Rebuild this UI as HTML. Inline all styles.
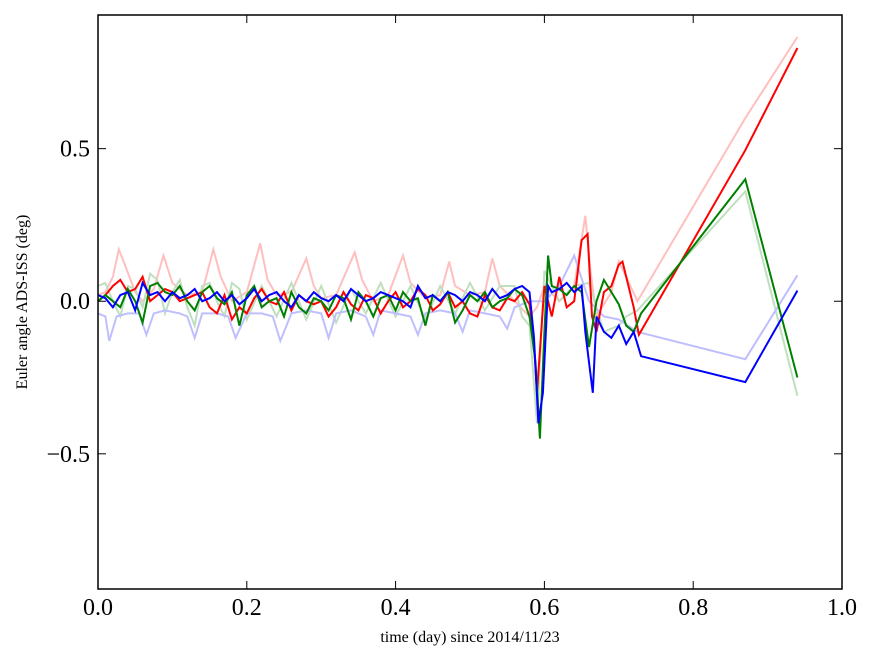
<!DOCTYPE html>
<html><head><meta charset="utf-8"><style>
body{margin:0;background:#fff;}
svg text{font-family:"Liberation Serif",serif;}
</style></head><body>
<svg id="chart" width="875" height="662"></svg>
<script>
const xTicks=[0.0,0.2,0.4,0.6,0.8,1.0];
const xTickLabels=["0.0","0.2","0.4","0.6","0.8","1.0"];
const yTicks=[0.5,0.0,-0.5];
const yTickLabels=["0.5","0.0","\u22120.5"];
const pinkX=[0,0.01,0.02,0.028,0.036,0.05,0.06,0.075,0.088,0.1,0.12,0.14,0.155,0.165,0.18,0.2,0.218,0.228,0.24,0.26,0.28,0.29,0.3,0.32,0.345,0.355,0.37,0.39,0.41,0.42,0.44,0.46,0.472,0.48,0.5,0.52,0.53,0.54,0.56,0.58,0.59,0.6,0.62,0.64,0.655,0.662,0.67,0.69,0.7,0.71,0.725,0.87,0.94];
const pinkY=[0.02,0.03,0.08,0.17,0.12,0.03,0.0,0.04,0.15,0.06,0.02,0.03,0.17,0.08,0.0,0.03,0.19,0.07,0.02,0.03,0.14,0.05,0.01,0.02,0.16,0.07,0.0,0.02,0.15,0.06,0.01,0.02,0.13,0.05,0.02,0.03,0.14,0.05,0.0,-0.05,-0.02,0.05,0.0,0.05,0.28,0.1,-0.05,0.03,0.13,0.08,0.0,0.6,0.866];
const redX=[0,0.01,0.02,0.03,0.04,0.05,0.06,0.07,0.08,0.09,0.1,0.11,0.12,0.13,0.14,0.15,0.16,0.17,0.18,0.19,0.2,0.21,0.22,0.23,0.24,0.25,0.26,0.27,0.28,0.29,0.3,0.31,0.32,0.33,0.34,0.35,0.36,0.37,0.38,0.39,0.4,0.41,0.42,0.43,0.44,0.45,0.46,0.47,0.48,0.49,0.5,0.51,0.52,0.53,0.54,0.55,0.56,0.57,0.58,0.585,0.59,0.6,0.61,0.62,0.63,0.64,0.65,0.658,0.664,0.67,0.68,0.69,0.7,0.705,0.71,0.72,0.727,0.87,0.94];
const redY=[0.0,0.02,0.05,0.07,0.03,0.04,0.08,0.0,0.02,0.04,0.03,0.0,0.01,0.02,0.03,-0.02,-0.04,0.02,-0.06,-0.02,-0.04,0.01,0.04,0.0,-0.01,0.03,-0.03,0.02,0.0,-0.01,0.0,-0.05,-0.02,0.03,-0.01,-0.03,0.02,0.01,-0.04,0.0,0.03,-0.02,0.0,0.04,0.02,-0.03,-0.01,0.03,-0.02,0.0,-0.04,-0.05,0.02,-0.02,-0.03,0.01,0.0,0.03,-0.01,-0.1,-0.3,0.05,-0.05,0.08,-0.02,0.0,0.2,0.22,-0.05,-0.1,0.03,0.05,0.12,0.13,0.08,-0.02,-0.11,0.495,0.83];
const gfX=[0,0.01,0.02,0.03,0.04,0.05,0.06,0.07,0.08,0.09,0.1,0.11,0.12,0.13,0.14,0.15,0.16,0.17,0.18,0.19,0.2,0.22,0.24,0.26,0.28,0.3,0.32,0.34,0.36,0.38,0.4,0.42,0.44,0.46,0.48,0.5,0.52,0.54,0.56,0.57,0.58,0.59,0.6,0.61,0.62,0.64,0.66,0.68,0.7,0.71,0.725,0.87,0.94];
const gfY=[0.05,0.06,0.0,-0.05,0.05,0.04,-0.02,0.09,0.07,-0.04,0.03,0.07,-0.02,-0.08,0.05,0.06,0.0,-0.05,0.06,0.04,-0.06,0.05,-0.05,0.06,-0.06,0.05,-0.07,0.04,-0.04,0.06,-0.05,0.05,-0.06,0.05,-0.04,0.06,-0.03,0.05,0.05,-0.05,-0.08,-0.4,0.1,0.05,0.0,0.05,0.06,-0.1,-0.08,-0.05,-0.03,0.36,-0.31];
const greenX=[0,0.01,0.02,0.03,0.04,0.05,0.06,0.07,0.08,0.09,0.1,0.11,0.12,0.13,0.14,0.15,0.16,0.17,0.18,0.19,0.2,0.21,0.22,0.23,0.24,0.25,0.26,0.27,0.28,0.29,0.3,0.31,0.32,0.33,0.34,0.35,0.36,0.37,0.38,0.39,0.4,0.41,0.42,0.43,0.44,0.45,0.46,0.47,0.48,0.49,0.5,0.51,0.52,0.53,0.54,0.55,0.56,0.57,0.58,0.588,0.594,0.6,0.605,0.61,0.62,0.63,0.64,0.65,0.66,0.67,0.68,0.69,0.7,0.71,0.72,0.73,0.87,0.94];
const greenY=[0.0,0.02,0.0,-0.02,0.04,0.0,-0.07,0.05,0.06,0.03,0.02,0.05,0.0,-0.03,0.03,0.05,0.01,-0.01,0.03,-0.08,0.02,0.05,-0.02,0.0,0.01,-0.05,0.03,-0.02,-0.04,0.01,0.0,-0.03,0.02,0.01,-0.06,0.03,0.0,-0.05,0.01,0.02,-0.03,0.03,0.0,0.01,-0.08,0.02,0.0,0.03,-0.07,-0.03,0.02,0.0,0.03,-0.02,0.0,0.01,0.04,0.02,-0.05,-0.2,-0.45,-0.1,0.15,0.05,0.04,0.02,0.05,0.03,-0.15,0.0,0.07,0.03,-0.01,-0.08,-0.1,-0.04,0.40,-0.25];
const bfX=[0,0.01,0.015,0.025,0.04,0.055,0.065,0.075,0.09,0.11,0.12,0.13,0.14,0.16,0.175,0.185,0.2,0.22,0.235,0.245,0.26,0.28,0.3,0.31,0.32,0.34,0.36,0.37,0.38,0.4,0.42,0.43,0.44,0.46,0.48,0.49,0.5,0.52,0.54,0.55,0.56,0.58,0.6,0.62,0.64,0.66,0.68,0.7,0.725,0.87,0.94];
const bfY=[-0.04,-0.05,-0.13,-0.05,-0.04,-0.04,-0.11,-0.04,-0.03,-0.04,-0.05,-0.12,-0.04,-0.04,-0.05,-0.12,-0.04,-0.04,-0.05,-0.13,-0.04,-0.03,-0.04,-0.12,-0.04,-0.03,-0.05,-0.11,-0.03,-0.04,-0.05,-0.11,-0.04,-0.03,-0.04,-0.1,-0.03,-0.04,-0.05,-0.09,-0.02,0.0,0.0,0.05,0.15,0.0,-0.05,-0.06,-0.1,-0.19,0.085];
const blueX=[0,0.01,0.02,0.03,0.04,0.05,0.06,0.07,0.08,0.09,0.1,0.11,0.12,0.13,0.14,0.15,0.16,0.17,0.18,0.19,0.2,0.21,0.22,0.23,0.24,0.25,0.26,0.27,0.28,0.29,0.3,0.31,0.32,0.33,0.34,0.35,0.36,0.37,0.38,0.39,0.4,0.41,0.42,0.43,0.44,0.45,0.46,0.47,0.48,0.49,0.5,0.51,0.52,0.53,0.54,0.55,0.56,0.57,0.58,0.586,0.592,0.598,0.605,0.61,0.62,0.63,0.64,0.65,0.655,0.66,0.665,0.67,0.68,0.69,0.7,0.71,0.72,0.73,0.87,0.94];
const blueY=[0.02,0.01,-0.02,0.02,0.03,-0.03,0.06,0.02,0.03,0.0,0.03,0.01,0.02,0.04,0.0,0.01,0.03,0.0,0.02,-0.01,0.01,0.04,0.0,0.02,0.03,0.0,-0.02,0.02,0.0,0.03,0.01,0.0,0.02,0.0,0.04,0.02,0.0,0.01,0.03,0.02,0.01,0.0,-0.02,0.05,0.01,0.02,0.0,0.03,0.02,0.0,0.03,0.02,0.0,0.04,0.01,0.02,0.04,0.05,0.03,-0.12,-0.4,-0.3,0.05,0.03,0.04,0.06,0.03,0.05,-0.1,-0.2,-0.3,-0.05,-0.1,-0.12,-0.08,-0.14,-0.1,-0.18,-0.265,0.035];

const L=98,R=842,T=15,B=589,ymin=-0.943,ymax=0.938;
const sx=v=>L+(v-0)*(R-L)/1.0;
const sy=v=>B-(v-ymin)*(B-T)/(ymax-ymin);
const NS="http://www.w3.org/2000/svg";
const svg=document.getElementById('chart');
function mk(tag,attrs,parent){const e=document.createElementNS(NS,tag);for(const k in attrs)e.setAttribute(k,attrs[k]);(parent||svg).appendChild(e);return e;}
const series=[[pinkX,pinkY,'#ffbfbf','series-red-faded'],[gfX,gfY,'#bfdfbf','series-green-faded'],[bfX,bfY,'#bfbfff','series-blue-faded'],[redX,redY,'#ff0000','series-red'],[greenX,greenY,'#008000','series-green'],[blueX,blueY,'#0000ff','series-blue']];
const g=mk('g',{});


series.forEach(s=>{
  const d=s[0].map((x,i)=>(i?'L':'M')+sx(x).toFixed(1)+','+sy(s[1][i]).toFixed(1)).join('');
  const p=mk('path',{d:d,fill:'none',stroke:s[2],'stroke-width':2},g);
  
  
});
const frame=mk('rect',{x:L,y:T,width:R-L,height:B-T,fill:'none',stroke:'#000','stroke-width':1.5});


xTicks.forEach((v,i)=>{
  const x=sx(v);
  mk('line',{x1:x,y1:B,x2:x,y2:B-8,stroke:'#000'});
  mk('line',{x1:x,y1:T,x2:x,y2:T+8,stroke:'#000'});
  const t=mk('text',{x:x,y:B+26,'text-anchor':'middle','font-size':24});
  t.textContent=xTickLabels[i];
  
  
});
yTicks.forEach((v,i)=>{
  const y=sy(v);
  mk('line',{x1:L,y1:y,x2:L+8,y2:y,stroke:'#000'});
  mk('line',{x1:R,y1:y,x2:R-8,y2:y,stroke:'#000'});
  const t=mk('text',{x:L-8,y:y+8,'text-anchor':'end','font-size':24});
  t.textContent=yTickLabels[i];
  
  
});
const xl=mk('text',{x:470,y:642,'text-anchor':'middle','font-size':16});
xl.textContent='time (day) since 2014/11/23';


const yl=mk('text',{x:27,y:302,'text-anchor':'middle','font-size':16,transform:'rotate(-90 27 302)'});
yl.textContent='Euler angle ADS-ISS (deg)';


</script>
</body></html>
